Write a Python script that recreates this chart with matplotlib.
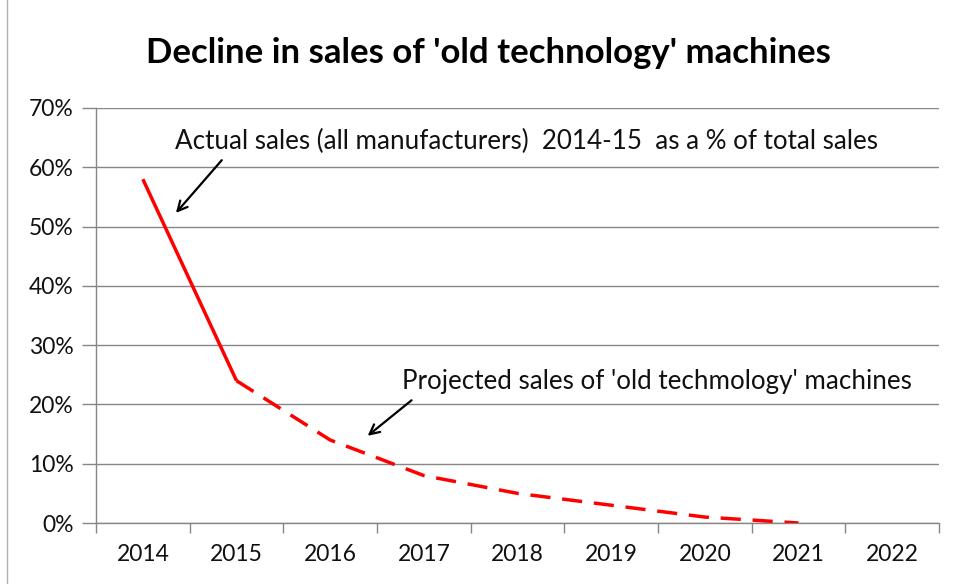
import matplotlib
matplotlib.use("Agg")
import matplotlib.pyplot as plt
from matplotlib.lines import Line2D

years = ["2014", "2015", "2016", "2017", "2018", "2019", "2020", "2021", "2022"]
actual_years = ["2014", "2015"]
actual_sales = [58, 24]
projected_years = ["2015", "2016", "2017", "2018", "2019", "2020", "2021"]
projected_sales = [24, 14, 8, 5, 3, 1, 0]
y_ticks = [0, 10, 20, 30, 40, 50, 60, 70]
y_tick_labels = ["0%", "10%", "20%", "30%", "40%", "50%", "60%", "70%"]

title = "Decline in sales of 'old technology' machines"
note_actual = "Actual sales (all manufacturers)  2014-15  as a % of total sales"
note_projected = "Projected sales of 'old techmology' machines"

plt.rcParams['font.family'] = ['Lato', 'DejaVu Sans']

fig = plt.figure(figsize=(9.57, 5.84), dpi=100)
ax = fig.add_axes([96/957, 1-523/584, (939-96)/957, (523-108)/584])

idx = {y: i for i, y in enumerate(years)}
ax.plot([idx[y] for y in actual_years], actual_sales, color="#ff0000", lw=2.5,
        solid_capstyle="butt", zorder=3)
ax.plot([idx[y] for y in projected_years], projected_sales, color="#ff0000", lw=2.5,
        dashes=(5.8, 3.4), dash_capstyle="butt", zorder=3)

ax.set_xlim(-0.5, len(years) - 0.5)
ax.set_ylim(0, 70)
ax.set_yticks(y_ticks)
ax.set_yticklabels(y_tick_labels, fontsize=16.5, color="#111111")
ax.yaxis.grid(True, color="#868686", lw=1.0)
ax.set_axisbelow(True)

ax.set_xticks([i - 0.5 for i in range(len(years) + 1)])
ax.set_xticklabels([])
ax.set_xticks(range(len(years)), minor=True)
ax.set_xticklabels(years, minor=True, fontsize=16.5, color="#111111")
ax.tick_params(axis="x", which="major", length=7, width=1, color="#868686", direction="out")
ax.tick_params(axis="x", which="minor", length=0, pad=15)
ax.tick_params(axis="y", length=10, width=1, color="#868686", pad=6)

for s in ["top", "right"]:
    ax.spines[s].set_visible(False)
for s in ["left", "bottom"]:
    ax.spines[s].set_color("#868686")
    ax.spines[s].set_linewidth(1.0)

fig.text(488/957, 1-53/584, title, fontsize=25, fontweight="bold",
         ha="center", va="center", color="#000000")

ax.text(0.342, 64.3, note_actual, fontsize=18.7, ha="left", va="center", color="#111111")
ax.text(2.762, 23.95, note_projected, fontsize=18.7, ha="left", va="center", color="#111111")

arrow = dict(arrowstyle="->,head_length=0.7,head_width=0.35", color="black", lw=1.6,
             shrinkA=0, shrinkB=0)
ax.annotate("", xy=(0.353, 52.3), xytext=(0.843, 61.2), arrowprops=arrow)
ax.annotate("", xy=(2.40, 14.7), xytext=(2.869, 20.7), arrowprops=arrow)

fig.add_artist(Line2D([7/957, 7/957], [0, 1], transform=fig.transFigure,
                      color="#b0b0b0", lw=1))

fig.savefig("out.png", dpi=100)
